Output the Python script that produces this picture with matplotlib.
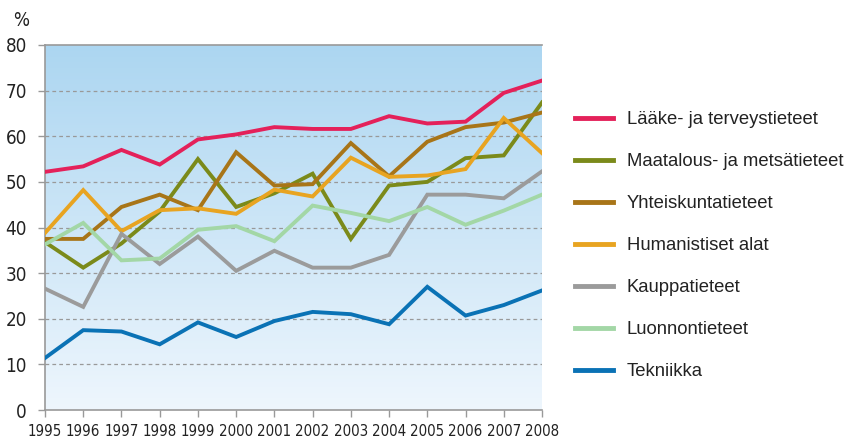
import numpy as np
import matplotlib
matplotlib.use('Agg')
import matplotlib.pyplot as plt
from matplotlib.colors import LinearSegmentedColormap

# data
years = list(range(1995, 2009))
yticks = [0, 10, 20, 30, 40, 50, 60, 70, 80]

labels = ["Lääke- ja terveystieteet", "Maatalous- ja metsätieteet",
          "Yhteiskuntatieteet", "Humanistiset alat", "Kauppatieteet",
          "Luonnontieteet", "Tekniikka"]

laake = [52.2, 53.4, 57.0, 53.8, 59.3, 60.4, 62.0, 61.6, 61.6, 64.4, 62.8, 63.2, 69.5, 72.2]
maatalous = [36.8, 31.2, 36.5, 43.5, 55.0, 44.5, 47.5, 51.8, 37.5, 49.2, 50.0, 55.2, 55.8, 67.4]
yhteiskunta = [37.5, 37.5, 44.5, 47.2, 43.8, 56.5, 49.2, 49.5, 58.5, 51.2, 58.8, 62.0, 63.0, 65.2]
humanistiset = [38.8, 48.2, 39.2, 43.8, 44.2, 43.0, 48.3, 46.8, 55.3, 51.1, 51.4, 52.8, 64.0, 56.3]
kauppa = [26.6, 22.6, 38.6, 32.0, 38.0, 30.5, 34.9, 31.2, 31.2, 34.0, 47.2, 47.2, 46.4, 52.3]
luonnon = [36.3, 41.0, 32.8, 33.2, 39.5, 40.3, 37.0, 44.8, 43.2, 41.4, 44.5, 40.6, 43.7, 47.2]
tekniikka = [11.4, 17.5, 17.2, 14.4, 19.2, 16.0, 19.5, 21.5, 21.0, 18.8, 27.0, 20.7, 23.0, 26.2]

series = [laake, maatalous, yhteiskunta, humanistiset, kauppa, luonnon, tekniikka]
colors = ["#e4215a", "#7b8a1a", "#a87518", "#e8a421", "#9b9b9b", "#a3d7a6", "#0a72b5"]

legend_font = ['Liberation Sans', 'DejaVu Sans']

fig = plt.figure(figsize=(8.46, 4.43), dpi=100)
ax = fig.add_axes([45 / 846, 33 / 443, 497 / 846, 365 / 443])

# background gradient
cmap = LinearSegmentedColormap.from_list("bg", ["#eef6fd", "#acd6f1"])
grad = np.linspace(0, 1, 256).reshape(-1, 1)
ax.imshow(grad, cmap=cmap, origin='lower', aspect='auto',
          extent=[years[0], years[-1], 0, 80], zorder=0)

for yv in yticks[1:-1]:
    ax.axhline(yv, color='#999999', lw=0.9, ls=(0, (3, 2.5)), zorder=1)

for s, c, lab in zip(series, colors, labels):
    ax.plot(years, s, color=c, lw=2.8, label=lab, zorder=3, solid_joinstyle='miter')

ax.set_xlim(years[0], years[-1])
ax.set_ylim(0, 80)
ax.set_xticks(years)
ax.set_yticks(yticks)
ax.set_xticklabels([str(y) for y in years], family='DejaVu Sans', stretch='condensed',
                   fontsize=10.8, color='#222222')
ax.set_yticklabels([str(y) for y in yticks], family='DejaVu Sans', stretch='condensed',
                   fontsize=13.5, color='#222222')
ax.tick_params(axis='both', color='#999999', length=5, width=1)
ax.tick_params(axis='x', pad=5)
ax.tick_params(axis='y', pad=8)

for sp in ['left', 'bottom', 'top']:
    ax.spines[sp].set_color('#999999')
    ax.spines[sp].set_linewidth(1.2)
ax.spines['right'].set_visible(False)

fig.text(13 / 846, 1 - 21 / 443, "%", family='DejaVu Sans', stretch='condensed',
         fontsize=13.5, color='#222222', va='center', ha='left')

leg = ax.legend(loc='center left', bbox_to_anchor=(1.066, 0.450), frameon=False,
                prop={'family': legend_font, 'size': 13.3},
                handlelength=2.05, handletextpad=0.76, labelspacing=1.35,
                borderpad=0, borderaxespad=0)
for t in leg.get_texts():
    t.set_color('#222222')
for h in leg.get_lines():
    h.set_linewidth(3.5)

fig.savefig("out.png", dpi=100)
